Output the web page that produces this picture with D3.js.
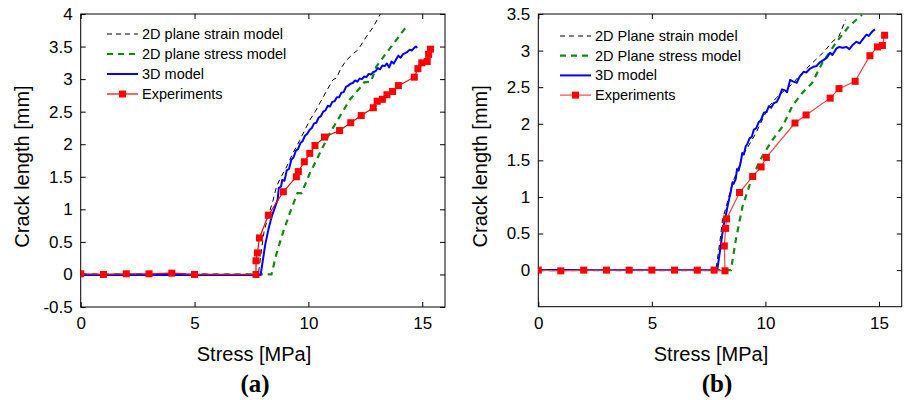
<!DOCTYPE html>
<html>
<head>
<meta charset="utf-8">
<script src="https://cdn.jsdelivr.net/npm/d3@7"></script>
<style>
  body { margin: 0; background: #fff; }
  svg { font-family: "Liberation Sans", Arial, sans-serif; }
  .tick text { font-size: 17px; fill: #000; }
  .axis line { stroke: #000; }
  .lbl { font-size: 20px; fill: #000; }
  .leg { font-size: 14.5px; fill: #000; }
  .cap { font-family: "Liberation Serif", "Times New Roman", serif; font-weight: bold; font-size: 25px; }
</style>
</head>
<body>
<svg id="chart" width="905" height="400"></svg>
<script>

// ---- data ----

var xTicks = [0, 5, 10, 15];
var yTicksA = [-0.5, 0, 0.5, 1, 1.5, 2, 2.5, 3, 3.5, 4];
var yTicksB = [0, 0.5, 1, 1.5, 2, 2.5, 3, 3.5];

var legendA = ["2D plane strain model", "2D plane stress model", "3D model", "Experiments"];
var legendB = ["2D Plane strain model", "2D Plane stress model", "3D model", "Experiments"];

// panel (a)
var strainA = [[0,0],[7.8,0],[7.95,0.4],[8.05,0.65],[8.2,0.85],[8.45,1.14],[8.6,1.35],[8.8,1.5],[9.04,1.65],
  [9.3,1.85],[9.62,2.06],[9.85,2.22],[10.06,2.37],[10.3,2.5],[10.5,2.63],[10.8,2.82],[11.08,2.99],[11.25,3.02],
  [11.4,3.15],[11.67,3.29],[12.0,3.4],[12.18,3.45],[12.54,3.65],[12.85,3.8],[13.16,4.0]];

var stressA = [[0,0],[8.38,0],[8.6,0.32],[8.89,0.65],[9.18,0.94],[9.52,1.25],[9.7,1.25],[10.06,1.55],[10.5,1.86],
  [10.94,2.17],[11.37,2.42],[11.81,2.68],[12.25,2.86],[12.45,2.95],[12.75,2.96],[12.98,3.19],[13.42,3.4],
  [13.86,3.6],[14.33,3.82]];

var model3dA = [[0,-0.01],[7.9,-0.01],[7.95,0.1],[8.1,0.45],[8.25,0.7],[8.4,0.9],[8.55,1.05],[8.65,1.15],[8.7,1.33],
  [8.8,1.35],[8.85,1.45],[8.95,1.44],[9.05,1.6],[9.15,1.62],[9.25,1.76],[9.35,1.8],[9.45,1.9],[9.55,1.93],
  [9.65,2.02],[9.75,2.05],[9.85,2.13],[9.95,2.16],[10.05,2.22],[10.15,2.25],[10.25,2.32],[10.35,2.33],
  [10.45,2.41],[10.55,2.43],[10.65,2.5],[10.75,2.52],[10.85,2.59],[10.95,2.58],[11.05,2.65],[11.15,2.66],
  [11.25,2.72],[11.35,2.72],[11.45,2.79],[11.55,2.8],[11.65,2.88],[11.75,2.9],[11.85,2.93],[11.95,2.94],
  [12.05,2.98],[12.15,2.96],[12.25,3.01],[12.35,3.0],[12.45,3.04],[12.55,3.03],[12.65,3.08],[12.75,3.07],
  [12.85,3.11],[12.95,3.12],[13.05,3.17],[13.15,3.15],[13.25,3.21],[13.35,3.2],[13.45,3.24],[13.55,3.18],
  [13.65,3.27],[13.75,3.24],[13.85,3.3],[13.95,3.36],[14.05,3.33],[14.15,3.38],[14.25,3.4],[14.35,3.42],
  [14.45,3.45],[14.55,3.44],[14.65,3.48],[14.72,3.5],[14.78,3.48]];

var expA = [[0,0.01],[1,0],[2,0.01],[3,0.01],[4,0.02],[5,0],[7.7,0],[7.7,0.21],[7.76,0.33],[7.85,0.56],[8.24,0.91],
  [8.9,1.27],[9.47,1.5],[9.56,1.58],[9.82,1.73],[10.06,1.86],[10.29,1.98],[10.71,2.11],[11.37,2.21],[11.86,2.33],
  [12.32,2.44],[12.85,2.56],[13.02,2.66],[13.25,2.69],[13.45,2.76],[13.7,2.81],[13.95,2.9],[14.65,3.03],
  [14.81,3.16],[14.98,3.25],[15.22,3.27],[15.28,3.38],[15.36,3.46]];

// panel (b)
var strainB = [[0,0],[7.82,0],[8.0,0.4],[8.11,0.69],[8.3,0.9],[8.55,1.19],[8.75,1.35],[8.99,1.56],[9.3,1.72],
  [9.58,1.87],[9.85,2.05],[10.16,2.24],[10.5,2.36],[10.89,2.47],[11.2,2.55],[11.48,2.65],[11.8,2.75],
  [12.06,2.83],[12.4,2.93],[12.65,3.01],[12.94,3.12],[13.23,3.19],[13.53,3.42]];

var stressB = [[0,0],[8.48,0],[8.7,0.42],[8.99,0.87],[9.43,1.28],[9.87,1.56],[10.31,1.78],[10.75,1.96],
  [11.18,2.24],[11.62,2.42],[12.06,2.56],[12.5,2.83],[13.09,3.1],[13.67,3.33],[14.25,3.49]];

var model3dB = [[0,0],[7.88,0],[8.03,0.33],[8.15,0.6],[8.25,0.74],[8.35,0.9],[8.47,1.06],[8.55,1.2],[8.6,1.18],
  [8.69,1.24],[8.75,1.38],[8.82,1.36],[8.91,1.47],[8.98,1.6],[9.05,1.58],[9.13,1.69],[9.2,1.72],[9.3,1.8],
  [9.4,1.82],[9.49,1.92],[9.6,1.94],[9.7,2.02],[9.8,2.05],[9.93,2.15],[10.05,2.16],[10.15,2.24],[10.25,2.22],
  [10.36,2.28],[10.5,2.3],[10.6,2.36],[10.73,2.47],[10.85,2.46],[10.95,2.43],[11.09,2.6],[11.2,2.58],
  [11.38,2.56],[11.5,2.64],[11.68,2.71],[11.8,2.7],[11.95,2.75],[12.12,2.78],[12.25,2.79],[12.4,2.84],
  [12.55,2.87],[12.7,2.9],[12.85,2.97],[12.95,2.94],[13.13,3.03],[13.25,3.05],[13.4,3.04],[13.57,3.05],
  [13.7,3.02],[13.85,3.08],[14.01,3.12],[14.15,3.1],[14.3,3.16],[14.45,3.22],[14.55,3.2],[14.7,3.26],[14.82,3.29]];

var expB = [[0,0],[0.99,-0.01],[2,0],[3,0],[4,0],[5,0],[6,0],[7,0],[7.74,0],[8.22,-0.01],[8.19,0.33],[8.25,0.57],
  [8.29,0.7],[8.86,1.06],[9.44,1.28],[9.81,1.41],[10.04,1.54],[11.3,2.01],[11.79,2.12],[12.85,2.35],
  [13.24,2.48],[13.95,2.58],[14.6,2.93],[14.93,3.05],[15.15,3.07],[15.25,3.21]];


var svg = d3.select("#chart");

function drawPanel(p) {
    var x = d3.scaleLinear().domain([0, 16]).range([p.left, p.right]),
        y = d3.scaleLinear().domain(p.yDomain).range([p.bottom, p.top]);

    var g = svg.append("g");

    g.append("clipPath")
        .attr("id", "clip" + p.id)
        .append("rect")
        .attr("x", p.left).attr("y", p.top)
        .attr("width", p.right - p.left).attr("height", p.bottom - p.top);

    // axes, ticks inside like matlab
    g.append("g")
        .attr("class", "axis")
        .attr("transform", "translate(0," + p.bottom + ")")
        .call(d3.axisBottom(x).tickValues(xTicks).tickSizeInner(-5).tickSizeOuter(0).tickPadding(10))
        .select(".domain").remove();

    g.append("g")
        .attr("class", "axis")
        .attr("transform", "translate(0," + p.top + ")")
        .call(d3.axisTop(x).tickValues(xTicks).tickSizeInner(-5).tickSizeOuter(0).tickFormat(""))
        .select(".domain").remove();

    g.append("g")
        .attr("class", "axis")
        .attr("transform", "translate(" + p.left + ",0)")
        .call(d3.axisLeft(y).tickValues(p.yTicks).tickSizeInner(-5).tickSizeOuter(0).tickPadding(8)
            .tickFormat(function (d) { return String(d); }))
        .select(".domain").remove();

    g.append("g")
        .attr("class", "axis")
        .attr("transform", "translate(" + p.right + ",0)")
        .call(d3.axisRight(y).tickValues(p.yTicks).tickSizeInner(-5).tickSizeOuter(0).tickFormat(""))
        .select(".domain").remove();

    g.append("rect")
        .attr("x", p.left).attr("y", p.top)
        .attr("width", p.right - p.left).attr("height", p.bottom - p.top)
        .attr("fill", "none").attr("stroke", "#000").attr("stroke-width", 1);

    var line = d3.line()
        .x(function (d) { return x(d[0]); })
        .y(function (d) { return y(d[1]); });

    var plot = g.append("g").attr("clip-path", "url(#clip" + p.id + ")");

    plot.append("path").datum(p.strain)
        .attr("d", line).attr("fill", "none")
        .attr("stroke", "#000").attr("stroke-width", 1).attr("stroke-dasharray", "5,4");

    plot.append("path").datum(p.stress)
        .attr("d", line).attr("fill", "none")
        .attr("stroke", "#108a10").attr("stroke-width", 2.2).attr("stroke-dasharray", "6,5");

    plot.append("path").datum(p.model3d)
        .attr("d", line).attr("fill", "none")
        .attr("stroke", "#0000ff").attr("stroke-width", 2).attr("stroke-linejoin", "round");

    plot.append("path").datum(p.exp)
        .attr("d", line).attr("fill", "none")
        .attr("stroke", p.expLine).attr("stroke-width", 1.2);

    plot.selectAll(".mark")
        .data(p.exp)
        .enter()
        .append("rect")
        .attr("class", "mark")
        .attr("x", function (d) { return x(d[0]) - 3.5; })
        .attr("y", function (d) { return y(d[1]) - 3.5; })
        .attr("width", 7).attr("height", 7)
        .attr("fill", "#ff0000");

    // legend
    var styles = [
        { stroke: "#000", w: 1, dash: "5,4" },
        { stroke: "#108a10", w: 2.2, dash: "6,5" },
        { stroke: "#0000ff", w: 2, dash: null },
        { stroke: p.expLine, w: 1.2, dash: null }
    ];

    var leg = g.selectAll(".legrow")
        .data(p.legend)
        .enter()
        .append("g")
        .attr("transform", function (d, i) { return "translate(0," + (p.legY + i * p.legStep) + ")"; });

    leg.append("line")
        .attr("x1", p.legX).attr("x2", p.legX + 31)
        .attr("stroke", function (d, i) { return styles[i].stroke; })
        .attr("stroke-width", function (d, i) { return styles[i].w; })
        .attr("stroke-dasharray", function (d, i) { return styles[i].dash; });

    leg.filter(function (d, i) { return i === 3; })
        .append("rect")
        .attr("x", p.legX + 12).attr("y", -3.5).attr("width", 7).attr("height", 7)
        .attr("fill", "#ff0000");

    leg.append("text")
        .attr("class", "leg")
        .attr("x", p.legX + 35)
        .attr("dy", "0.35em")
        .text(function (d) { return d; });

    // axis titles
    g.append("text")
        .attr("class", "lbl")
        .attr("text-anchor", "middle")
        .attr("transform", "translate(" + p.yLabX + "," + ((p.top + p.bottom) / 2 + 6) + ") rotate(-90)")
        .attr("dy", "0.35em")
        .text("Crack length [mm]");

    g.append("text")
        .attr("class", "lbl")
        .attr("text-anchor", "middle")
        .attr("x", p.xLabX).attr("y", 361)
        .text("Stress [MPa]");

    g.append("text")
        .attr("class", "cap")
        .attr("text-anchor", "middle")
        .attr("x", p.capX).attr("y", 392)
        .text(p.caption);
}

// PANEL A
drawPanel({
    id: "a", left: 80.7, right: 445, top: 14, bottom: 307,
    yDomain: [-0.5, 4], yTicks: yTicksA,
    strain: strainA, stress: stressA, model3d: model3dA, exp: expA,
    expLine: "#ff0000", legend: legendA, legX: 107, legY: 34, legStep: 20,
    yLabX: 22, xLabX: 254, capX: 255, caption: "(a)"
});

// PANEL B
drawPanel({
    id: "b", left: 538.3, right: 901.7, top: 14, bottom: 306.7,
    yDomain: [-0.5, 3.5], yTicks: yTicksB,
    strain: strainB, stress: stressB, model3d: model3dB, exp: expB,
    expLine: "#ff4545", legend: legendB, legX: 560, legY: 36, legStep: 19.7,
    yLabX: 480, xLabX: 711, capX: 717, caption: "(b)"
});

</script>
</body>
</html>
